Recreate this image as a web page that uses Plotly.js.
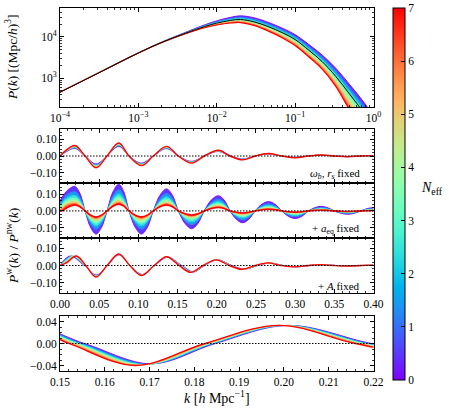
<!DOCTYPE html>
<html><head><meta charset="utf-8">
<script src="https://cdn.plot.ly/plotly-3.0.1.min.js"></script>
<style>html,body{margin:0;padding:0;background:#fff}</style>
</head><body><div id="chart" style="width:449px;height:411px"></div>
<script>
// ---------------- DATA ----------------
// Panel 1: linear matter power spectrum P(k) for several N_eff
const k1 = [1e-4, 3e-4, 1e-3, 2e-3, 4e-3, 7e-3, 0.01, 0.015, 0.02, 0.03, 0.045, 0.07, 0.1, 0.15, 0.22, 0.33, 0.5, 0.75, 1.0];
const neff1 = [0, 1, 2, 3, 4, 5, 6, 7];
const pk_n0 = [456, 1295, 4089, 7538, 12879, 19518, 24403, 29713, 32357, 28955, 22668, 15974, 11337, 6502, 3671, 1743, 687, 264, 121];
const pk_n1 = [456, 1295, 4082, 7487, 12662, 18864, 23287, 27870, 29969, 26590, 20729, 14546, 10236, 5770, 3203, 1470, 562, 211, 96];
const pk_n2 = [456, 1295, 4076, 7441, 12471, 18298, 22332, 26330, 27986, 24645, 19138, 13378, 9343, 5188, 2837, 1263, 471, 174, 78];
const pk_n3 = [456, 1295, 4070, 7400, 12300, 17800, 21500, 25000, 26300, 23000, 17800, 12400, 8600, 4710, 2540, 1100, 400, 145, 65];
const pk_n4 = [456, 1295, 4064, 7369, 12173, 17435, 20842, 23952, 25007, 21689, 16556, 11374, 7780, 4217, 2243, 932, 308, 108, 48];
const pk_n5 = [456, 1295, 4059, 7342, 12060, 17113, 20267, 23046, 23898, 20573, 15511, 10524, 7109, 3818, 2006, 803, 243, 84, 37];
const pk_n6 = [456, 1295, 4055, 7319, 11965, 16843, 19790, 22299, 22991, 19667, 14670, 9850, 6584, 3508, 1823, 707, 199, 67, 29];
const pk_n7 = [456, 1295, 4051, 7298, 11882, 16612, 19384, 21674, 22231, 18912, 13977, 9299, 6159, 3259, 1678, 633, 167, 55, 24];
const pk_ref = [456, 1295, 4070, 7400, 12300, 17800, 21500, 25000, 26300, 23000, 17800, 12400, 8600, 4710, 2540, 1100, 400, 145, 65];

// Panel 2: omega_b, r_s fixed
const kw = [0, 0.008, 0.019, 0.032, 0.046, 0.060, 0.075, 0.088, 0.104, 0.119, 0.136, 0.151, 0.168, 0.184, 0.202, 0.217, 0.233, 0.249, 0.266, 0.283, 0.300, 0.317, 0.333, 0.350, 0.367, 0.384, 0.400];
const neff2 = [0, 1.75, 3.5, 5.25, 7];
const w2_n0   = [0, 0.025, 0.045, 0, -0.047, 0, 0.057, 0, -0.042, 0, 0.044, 0, -0.032, 0, 0.027, 0, -0.018, 0, 0.012, 0, -0.008, 0, 0.005, 0, -0.003, 0, 0.002];
const w2_n175 = [0, 0.0275, 0.049, 0, -0.053, 0, 0.062, 0, -0.046, 0, 0.047, 0, -0.035, 0, 0.029, 0, -0.019, 0, 0.013, 0, -0.0085, 0, 0.0053, 0, -0.0033, 0, 0.002];
const w2_n35  = [0, 0.030, 0.0535, 0, -0.0585, 0, 0.067, 0, -0.0495, 0, 0.0505, 0, -0.037, 0, 0.0305, 0, -0.0205, 0, 0.0135, 0, -0.009, 0, 0.0055, 0, -0.0035, 0, 0.002];
const w2_n525 = [0, 0.0325, 0.058, 0, -0.064, 0, 0.072, 0, -0.053, 0, 0.054, 0, -0.0395, 0, 0.032, 0, -0.022, 0, 0.014, 0, -0.0095, 0, 0.0058, 0, -0.0038, 0, 0.002];
const w2_n7   = [0, 0.035, 0.062, 0, -0.070, 0, 0.077, 0, -0.057, 0, 0.057, 0, -0.042, 0, 0.034, 0, -0.023, 0, 0.015, 0, -0.010, 0, 0.006, 0, -0.004, 0, 0.002];

// Panel 3: + a_eq fixed (denser k grid)
const kw3 = [0, 0.004, 0.008, 0.0135, 0.019, 0.0255, 0.032, 0.039, 0.046, 0.053, 0.060, 0.0675, 0.075, 0.0815, 0.088, 0.096, 0.104, 0.1115, 0.119, 0.1275, 0.136, 0.1435, 0.151, 0.1595, 0.168, 0.176, 0.184, 0.193, 0.202, 0.2095, 0.217, 0.225, 0.233, 0.241, 0.249, 0.2575, 0.266, 0.2745, 0.283, 0.2915, 0.300, 0.3085, 0.317, 0.325, 0.333, 0.3415, 0.350, 0.3585, 0.367, 0.3755, 0.384, 0.392, 0.400];
const neff3 = [0, 1, 2, 3, 4, 5, 6, 7];
const w3_n0 = [0.060, 0.090, 0.115, 0.136, 0.145, 0.103, 0, -0.097, -0.137, -0.097, 0, 0.112, 0.158, 0.112, 0, -0.097, -0.137, -0.097, 0, 0.092, 0.130, 0.092, 0, -0.074, -0.105, -0.074, 0, 0.064, 0.090, 0.064, 0, -0.049, -0.070, -0.049, 0, 0.039, 0.055, 0.039, 0, -0.032, -0.045, -0.032, 0, 0.019, 0.027, 0.019, 0, -0.014, -0.020, -0.014, 0, 0.014, 0.020];
const w3_n1 = [0.045, 0.070, 0.092, 0.107, 0.114, 0.081, 0, -0.077, -0.109, -0.077, 0, 0.088, 0.125, 0.088, 0, -0.076, -0.108, -0.076, 0, 0.073, 0.103, 0.073, 0, -0.058, -0.082, -0.058, 0, 0.049, 0.070, 0.049, 0, -0.038, -0.054, -0.038, 0, 0.030, 0.042, 0.030, 0, -0.024, -0.034, -0.024, 0, 0.015, 0.021, 0.015, 0, -0.011, -0.015, -0.011, 0, 0.011, 0.015];
const w3_n2 = [0.034, 0.056, 0.075, 0.087, 0.092, 0.065, 0, -0.063, -0.089, -0.063, 0, 0.071, 0.101, 0.071, 0, -0.062, -0.088, -0.062, 0, 0.059, 0.084, 0.059, 0, -0.047, -0.066, -0.047, 0, 0.040, 0.056, 0.040, 0, -0.030, -0.042, -0.030, 0, 0.023, 0.033, 0.023, 0, -0.019, -0.027, -0.019, 0, 0.011, 0.016, 0.011, 0, -0.008, -0.012, -0.008, 0, 0.008, 0.011];
const w3_n3 = [0.025, 0.045, 0.062, 0.072, 0.076, 0.054, 0, -0.052, -0.073, -0.052, 0, 0.059, 0.084, 0.059, 0, -0.052, -0.073, -0.052, 0, 0.049, 0.070, 0.049, 0, -0.038, -0.054, -0.038, 0, 0.033, 0.046, 0.033, 0, -0.024, -0.034, -0.024, 0, 0.019, 0.027, 0.019, 0, -0.015, -0.021, -0.015, 0, 0.009, 0.013, 0.009, 0, -0.006, -0.009, -0.006, 0, 0.006, 0.009];
const w3_n4 = [0.017, 0.034, 0.050, 0.059, 0.063, 0.045, 0, -0.043, -0.061, -0.043, 0, 0.049, 0.070, 0.049, 0, -0.043, -0.061, -0.043, 0, 0.042, 0.059, 0.042, 0, -0.031, -0.044, -0.031, 0, 0.027, 0.038, 0.027, 0, -0.019, -0.027, -0.019, 0, 0.015, 0.021, 0.015, 0, -0.012, -0.017, -0.012, 0, 0.007, 0.010, 0.007, 0, -0.005, -0.007, -0.005, 0, 0.005, 0.007];
const w3_n5 = [0.010, 0.025, 0.040, 0.048, 0.052, 0.037, 0, -0.036, -0.051, -0.036, 0, 0.041, 0.058, 0.041, 0, -0.035, -0.050, -0.035, 0, 0.035, 0.049, 0.035, 0, -0.025, -0.036, -0.025, 0, 0.022, 0.031, 0.022, 0, -0.015, -0.021, -0.015, 0, 0.012, 0.017, 0.012, 0, -0.009, -0.013, -0.009, 0, 0.006, 0.008, 0.006, 0, -0.004, -0.006, -0.004, 0, 0.004, 0.005];
const w3_n6 = [0.004, 0.015, 0.030, 0.039, 0.043, 0.030, 0, -0.030, -0.043, -0.030, 0, 0.034, 0.048, 0.034, 0, -0.030, -0.042, -0.030, 0, 0.030, 0.042, 0.030, 0, -0.021, -0.030, -0.021, 0, 0.018, 0.025, 0.018, 0, -0.011, -0.016, -0.011, 0, 0.009, 0.013, 0.009, 0, -0.007, -0.010, -0.007, 0, 0.004, 0.006, 0.004, 0, -0.003, -0.004, -0.003, 0, 0.002, 0.003];
const w3_n7 = [-0.002, 0.004, 0.016, 0.029, 0.035, 0.025, 0, -0.025, -0.036, -0.025, 0, 0.028, 0.040, 0.028, 0, -0.025, -0.035, -0.025, 0, 0.025, 0.035, 0.025, 0, -0.017, -0.024, -0.017, 0, 0.014, 0.020, 0.014, 0, -0.008, -0.012, -0.008, 0, 0.007, 0.010, 0.007, 0, -0.005, -0.007, -0.005, 0, 0.003, 0.004, 0.003, 0, -0.002, -0.003, -0.002, 0, 0.001, 0.002];

// Panel 4 (+ A fixed), also shown zoomed in panel 5
const neff4 = [0, 1.75, 3.5, 5.25, 7];
const k4_n0   = [0, 0.006, 0.014, 0.031, 0.0465, 0.0605, 0.0755, 0.0895, 0.105, 0.121, 0.1375, 0.1555, 0.1705, 0.1847, 0.201, 0.2195, 0.2355, 0.2525, 0.2685, 0.2855, 0.3025, 0.3195, 0.3355, 0.3525, 0.3695, 0.3865, 0.400];
const k4_n175 = [0, 0.0065, 0.0158, 0.0315, 0.0464, 0.0604, 0.0754, 0.0894, 0.1048, 0.1208, 0.1371, 0.1546, 0.1696, 0.1841, 0.2005, 0.2186, 0.2346, 0.2516, 0.2676, 0.2846, 0.3016, 0.3186, 0.3346, 0.3516, 0.3686, 0.3856, 0.400];
const k4_n35  = [0, 0.007, 0.0175, 0.032, 0.0463, 0.0603, 0.0753, 0.0893, 0.1045, 0.1205, 0.1368, 0.1538, 0.1687, 0.1836, 0.1999, 0.2178, 0.2338, 0.2508, 0.2668, 0.2838, 0.3008, 0.3178, 0.3338, 0.3508, 0.3678, 0.3848, 0.400];
const k4_n525 = [0, 0.0075, 0.0193, 0.0325, 0.0461, 0.0601, 0.0751, 0.0891, 0.1043, 0.1203, 0.1364, 0.1529, 0.1677, 0.1830, 0.1994, 0.2169, 0.2329, 0.2499, 0.2659, 0.2829, 0.2999, 0.3169, 0.3329, 0.3499, 0.3669, 0.3839, 0.400];
const k4_n7   = [0, 0.008, 0.021, 0.033, 0.046, 0.060, 0.075, 0.089, 0.104, 0.120, 0.136, 0.152, 0.1668, 0.1824, 0.1988, 0.216, 0.232, 0.249, 0.265, 0.282, 0.299, 0.316, 0.332, 0.349, 0.366, 0.383, 0.400];
const w4_n0   = [0, 0.035, 0.055, 0, -0.055, 0, 0.062, 0, -0.052, 0, 0.048, 0, -0.037, 0, 0.033, 0, -0.021, 0, 0.014, 0, -0.008, 0, 0.005, 0, -0.003, 0, 0.002];
const w4_n175 = [0, 0.030, 0.055, 0, -0.058, 0, 0.0633, 0, -0.0535, 0, 0.0488, 0, -0.0378, 0, 0.033, 0, -0.0213, 0, 0.0143, 0, -0.008, 0, 0.005, 0, -0.003, 0, 0.002];
const w4_n35  = [0, 0.025, 0.055, 0, -0.061, 0, 0.0645, 0, -0.055, 0, 0.0495, 0, -0.0385, 0, 0.033, 0, -0.0215, 0, 0.0145, 0, -0.008, 0, 0.005, 0, -0.003, 0, 0.002];
const w4_n525 = [0, 0.020, 0.055, 0, -0.064, 0, 0.0658, 0, -0.0565, 0, 0.0503, 0, -0.0393, 0, 0.033, 0, -0.0218, 0, 0.0148, 0, -0.008, 0, 0.005, 0, -0.003, 0, 0.002];
const w4_n7   = [0, 0.015, 0.055, 0, -0.067, 0, 0.067, 0, -0.058, 0, 0.051, 0, -0.040, 0, 0.033, 0, -0.022, 0, 0.015, 0, -0.008, 0, 0.005, 0, -0.003, 0, 0.002];

// Tick labels
const k1TickVals = [1e-4, 1e-3, 1e-2, 1e-1, 1];
const k1TickText = ['10<sup>\u22124</sup>', '10<sup>\u22123</sup>', '10<sup>\u22122</sup>', '10<sup>\u22121</sup>', '10<sup>0</sup>'];
const p1TickVals = [1e3, 1e4];
const p1TickText = ['10<sup>3</sup>', '10<sup>4</sup>'];
const wTickVals = [-0.1, 0, 0.1];
const zTickVals = [-0.04, 0, 0.04];
const cbTickVals = [0, 1, 2, 3, 4, 5, 6, 7];

// ---------------- STYLE ----------------
const FONT = 'Liberation Serif, DejaVu Serif, serif';
function rb(t) { // matplotlib "rainbow"
  const r = Math.min(1, Math.abs(2 * t - 0.5));
  const g = Math.max(0, Math.sin(Math.PI * t));
  const b = Math.max(0, Math.cos(Math.PI * t / 2));
  return 'rgb(' + Math.round(r * 255) + ',' + Math.round(g * 255) + ',' + Math.round(b * 255) + ')';
}
const CS = [];
for (let i = 0; i <= 20; i++) CS.push([i / 20, rb(i / 20)]);

function band(xs, ys, ns, xa, ya, lastW) {
  const out = [];
  for (let i = 0; i < ys.length; i++) {
    const n = ns[i];
    const t = {
      type: 'scatter', mode: 'lines',
      x: Array.isArray(xs[0]) ? xs[i] : xs, y: ys[i],
      xaxis: xa, yaxis: ya,
      line: {color: rb(n / 7), width: i === ys.length - 1 ? lastW : 0.9, shape: 'spline', smoothing: 1},
      hoverinfo: 'skip', showlegend: false
    };
    if (i > 0) { t.fill = 'tonexty'; t.fillcolor = rb((n + ns[i - 1]) / 14); }
    out.push(t);
  }
  return out;
}

let traces = [];
traces = traces.concat(band(k1, [pk_n0, pk_n1, pk_n2, pk_n3, pk_n4, pk_n5, pk_n6, pk_n7], neff1, 'x', 'y', 1.2));
traces.push({type: 'scatter', mode: 'lines', x: k1, y: pk_ref, xaxis: 'x', yaxis: 'y',
  line: {color: 'black', width: 1, shape: 'spline', smoothing: 1}, hoverinfo: 'skip', showlegend: false});
traces = traces.concat(band(kw, [w2_n0, w2_n175, w2_n35, w2_n525, w2_n7], neff2, 'x2', 'y2', 1.4));
traces = traces.concat(band(kw3, [w3_n0, w3_n1, w3_n2, w3_n3, w3_n4, w3_n5, w3_n6, w3_n7], neff3, 'x3', 'y3', 1.6));
const k4s = [k4_n0, k4_n175, k4_n35, k4_n525, k4_n7];
const w4s = [w4_n0, w4_n175, w4_n35, w4_n525, w4_n7];
traces = traces.concat(band(k4s, w4s, neff4, 'x4', 'y4', 1.4));
traces = traces.concat(band(k4s, w4s, neff4, 'x5', 'y5', 1.3));
// colorbar carrier
const CB_TOP = 8, CB_BOT = 380, CB_RIGHT = 405;
traces.push({type: 'scatter', mode: 'markers', x: [1e-4], y: [456], xaxis: 'x', yaxis: 'y',
  marker: {size: 1, opacity: 0, color: [0], cmin: 0, cmax: 7, colorscale: CS, showscale: true,
    colorbar: {x: 393 / 449, xanchor: 'left', xpad: 0, y: 1 - (CB_TOP + CB_BOT) / 2 / 411, yanchor: 'middle', ypad: 0,
      len: CB_BOT - CB_TOP, lenmode: 'pixels', thickness: 12, thicknessmode: 'pixels',
      outlinewidth: 1, outlinecolor: 'black', borderwidth: 0,
      tickmode: 'array', tickvals: cbTickVals, ticks: 'inside', ticklen: 4, tickcolor: 'black',
      tickfont: {family: FONT, size: 11.5, color: 'black'}}},
  hoverinfo: 'skip', showlegend: false});

const XD = [60 / 449, 373.5 / 449];
function dom(top, bot) { return [1 - bot / 411, 1 - top / 411]; }
const base = {showline: true, linecolor: 'black', linewidth: 1, mirror: 'allticks', ticks: 'inside',
  ticklen: 4, tickwidth: 1, tickcolor: 'black', showgrid: false, zeroline: false, fixedrange: true,
  tickfont: {family: FONT, size: 11.5, color: 'black'}};
function mnr(d) { return {ticks: 'inside', ticklen: 2, tickwidth: 0.8, tickcolor: 'black', showgrid: false, dtick: d}; }

const shapes = ['2', '3', '4', '5'].map(function (s) {
  return {type: 'line', xref: 'x' + s + ' domain', yref: 'y' + s, x0: 0, x1: 1, y0: 0, y1: 0,
    line: {color: 'black', width: 1, dash: '1.5px,1.5px'}, layer: 'above'};
});
// colorbar minor ticks (every 0.2)
for (let j = 1; j < 35; j++) {
  if (j % 5 === 0) continue;
  const py = CB_BOT - (j * 0.2) / 7 * (CB_BOT - CB_TOP);
  shapes.push({type: 'line', xref: 'paper', yref: 'paper', x0: (CB_RIGHT - 2) / 449, x1: CB_RIGHT / 449,
    y0: 1 - py / 411, y1: 1 - py / 411, line: {color: 'black', width: 0.8}, layer: 'above'});
}

const layout = {
  width: 449, height: 411, margin: {l: 0, r: 0, t: 0, b: 0},
  paper_bgcolor: 'white', plot_bgcolor: 'white', showlegend: false,
  font: {family: FONT, size: 11.5, color: 'black'},
  xaxis: Object.assign({}, base, {type: 'log', domain: XD, range: [-4, 0], tickmode: 'array', tickvals: k1TickVals, ticktext: k1TickText, minor: mnr('D1'), anchor: 'y'}),
  yaxis: Object.assign({}, base, {type: 'log', domain: dom(8, 107), range: [Math.log10(200), Math.log10(50000)], tickmode: 'array', tickvals: p1TickVals, ticktext: p1TickText, minor: mnr('D1'), anchor: 'x'}),
  xaxis2: Object.assign({}, base, {domain: XD, range: [0, 0.4], tick0: 0, dtick: 0.05, showticklabels: false, minor: mnr(0.01), anchor: 'y2'}),
  yaxis2: Object.assign({}, base, {domain: dom(129, 183), range: [-0.16, 0.16], tickmode: 'array', tickvals: wTickVals, tickformat: '.2f', minor: mnr(0.02), anchor: 'x2'}),
  xaxis3: Object.assign({}, base, {domain: XD, range: [0, 0.4], tick0: 0, dtick: 0.05, showticklabels: false, minor: mnr(0.01), anchor: 'y3'}),
  yaxis3: Object.assign({}, base, {domain: dom(183, 238), range: [-0.16, 0.165], tickmode: 'array', tickvals: wTickVals, tickformat: '.2f', minor: mnr(0.02), anchor: 'x3'}),
  xaxis4: Object.assign({}, base, {domain: XD, range: [0, 0.4], tick0: 0, dtick: 0.05, tickformat: '.2f', minor: mnr(0.01), anchor: 'y4'}),
  yaxis4: Object.assign({}, base, {domain: dom(238, 293), range: [-0.16, 0.16], tickmode: 'array', tickvals: wTickVals, tickformat: '.2f', minor: mnr(0.02), anchor: 'x4'}),
  xaxis5: Object.assign({}, base, {domain: XD, range: [0.15, 0.22], tick0: 0.15, dtick: 0.01, tickformat: '.2f', minor: mnr(0.002), anchor: 'y5'}),
  yaxis5: Object.assign({}, base, {domain: dom(316, 371), range: [-0.05, 0.05], tickmode: 'array', tickvals: zTickVals, tickformat: '.2f', minor: mnr(0.01), anchor: 'x5'}),
  shapes: shapes,
  annotations: [
    {xref: 'paper', yref: 'paper', x: 12 / 449, y: 1 - 57 / 411, xanchor: 'center', yanchor: 'middle', textangle: -90, showarrow: false,
      text: '<i>P</i>(<i>k</i>) [(Mpc/<i>h</i>)<sup>3</sup>]', font: {family: FONT, size: 13.5}},
    {xref: 'paper', yref: 'paper', x: 12 / 449, y: 1 - 246 / 411, xanchor: 'center', yanchor: 'middle', textangle: -90, showarrow: false,
      text: '<i>P</i><sup>w</sup>(<i>k</i>) / <i>P</i><sup>nw</sup>(<i>k</i>)', font: {family: FONT, size: 13.5}},
    {xref: 'paper', yref: 'paper', x: 217 / 449, y: 1 - 397 / 411, xanchor: 'center', yanchor: 'middle', showarrow: false,
      text: '<i>k</i> [<i>h</i> Mpc<sup>\u22121</sup>]', font: {family: FONT, size: 14}},
    {xref: 'paper', yref: 'paper', x: 432 / 449, y: 1 - 188 / 411, xanchor: 'center', yanchor: 'middle', showarrow: false,
      text: '<i>N</i><sub>eff</sub>', font: {family: FONT, size: 14}},
    {xref: 'paper', yref: 'paper', x: 362 / 449, y: 1 - 174 / 411, xanchor: 'right', yanchor: 'middle', showarrow: false,
      text: '<i>\u03c9</i><sub><i>b</i></sub>, <i>r</i><sub><i>s</i></sub> fixed', font: {family: FONT, size: 11}},
    {xref: 'paper', yref: 'paper', x: 362 / 449, y: 1 - 229 / 411, xanchor: 'right', yanchor: 'middle', showarrow: false,
      text: '+ <i>a</i><sub>eq</sub> fixed', font: {family: FONT, size: 11}},
    {xref: 'paper', yref: 'paper', x: 362 / 449, y: 1 - 286 / 411, xanchor: 'right', yanchor: 'middle', showarrow: false,
      text: '+ <i>A</i> fixed', font: {family: FONT, size: 11}}
  ]
};

Plotly.newPlot('chart', traces, layout, {displayModeBar: false, staticPlot: true});
</script></body></html>
